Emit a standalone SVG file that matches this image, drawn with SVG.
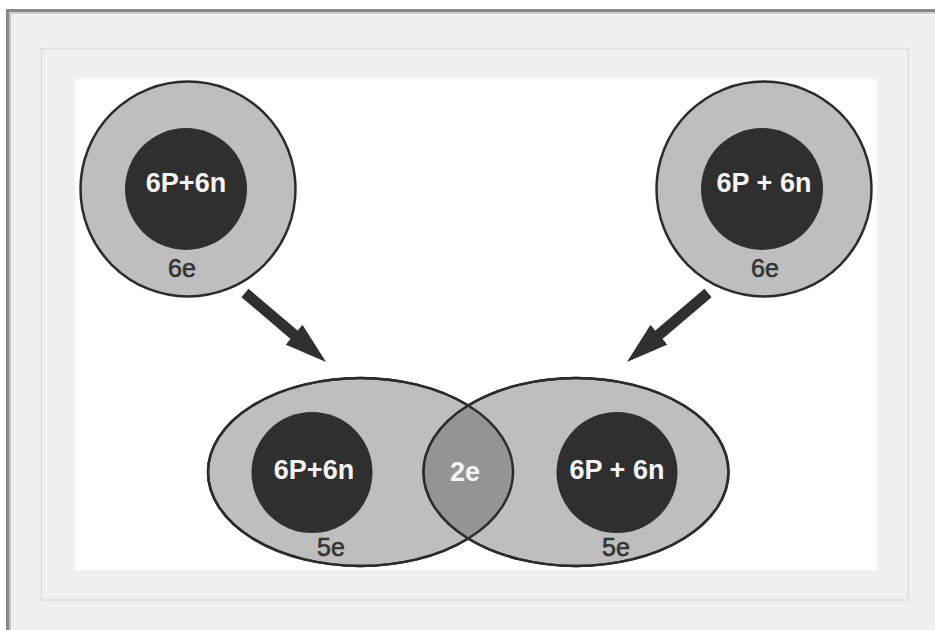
<svg xmlns="http://www.w3.org/2000/svg" width="935" height="630" viewBox="0 0 935 630">
  <style>
    .shell { fill: #bebebe; stroke: #2b2b2b; stroke-width: 2.5; }
    .outline { fill: none; stroke: #2b2b2b; stroke-width: 2.5; }
    .nucleus { fill: #2f2f2f; }
    .nuc-label { font-family: "Liberation Sans", Arial, sans-serif; font-weight: bold; font-size: 27px; fill: #f4f4f4; text-anchor: middle; }
    .e-label { font-family: "Liberation Sans", Arial, sans-serif; font-size: 25px; fill: #333333; stroke: #333333; stroke-width: 0.6; text-anchor: middle; }
    .arrow { stroke: #2f2f2f; stroke-width: 11; fill: none; marker-end: url(#head); }
  </style>
  <defs>
    <marker id="head" markerUnits="userSpaceOnUse" markerWidth="42" markerHeight="26" refX="12" refY="13" orient="auto">
      <path d="M0,0 L42,13 L0,26 Z" fill="#2f2f2f"/>
    </marker>
    <clipPath id="leftLobe">
      <ellipse cx="360.5" cy="472" rx="152.5" ry="94"/>
    </clipPath>
  </defs>

  <!-- window frame -->
  <rect x="0" y="0" width="935" height="630" fill="#ffffff"/>
  <rect x="6" y="9" width="929" height="621" fill="#f0f0f0"/>
  <rect x="6" y="9" width="929" height="3" fill="#888888"/>
  <rect x="9" y="12" width="926" height="2" fill="#d0d0d0"/>
  <rect x="6" y="9" width="3" height="621" fill="#888888"/>
  <rect x="9" y="12" width="2" height="618" fill="#c4c4c4"/>
  <rect x="41.5" y="48.5" width="867" height="551.5" fill="#f0f0f0" stroke="#dcdcdc" stroke-width="1.5"/>
  <rect x="75" y="79" width="802" height="491" fill="#ffffff"/>

  <!-- carbon atom, left -->
  <g id="atom-left">
    <circle class="shell" cx="188" cy="189" r="107.5"/>
    <circle class="nucleus" cx="186" cy="189" r="61"/>
    <text class="nuc-label" x="186" y="192">6P+6n</text>
    <text class="e-label" x="182" y="277">6e</text>
  </g>

  <!-- carbon atom, right -->
  <g id="atom-right">
    <circle class="shell" cx="764" cy="189" r="107.5"/>
    <circle class="nucleus" cx="762" cy="189" r="61"/>
    <text class="nuc-label" x="764" y="192">6P + 6n</text>
    <text class="e-label" x="765" y="277">6e</text>
  </g>

  <!-- bonded pair with shared electrons -->
  <g id="molecule">
    <g id="bond-left">
      <ellipse class="shell" cx="360.5" cy="472" rx="152.5" ry="94"/>
    </g>
    <g id="bond-right">
      <ellipse class="shell" cx="576" cy="472" rx="152.5" ry="94"/>
    </g>
    <g id="shared-pair">
      <ellipse cx="576" cy="472" rx="152.5" ry="94" fill="#949494" clip-path="url(#leftLobe)"/>
      <ellipse class="outline" cx="360.5" cy="472" rx="152.5" ry="94"/>
      <ellipse class="outline" cx="576" cy="472" rx="152.5" ry="94"/>
      <text class="nuc-label" x="465" y="481">2e</text>
    </g>
    <g id="nucleus-left">
      <circle class="nucleus" cx="312" cy="472.5" r="60.5"/>
      <text class="nuc-label" x="314" y="479">6P+6n</text>
      <text class="e-label" x="331" y="556">5e</text>
    </g>
    <g id="nucleus-right">
      <circle class="nucleus" cx="617" cy="472.5" r="60.5"/>
      <text class="nuc-label" x="617" y="479">6P + 6n</text>
      <text class="e-label" x="616" y="556">5e</text>
    </g>
  </g>

  <!-- reaction arrows -->
  <g id="connectors">
    <line class="arrow" x1="245" y1="293" x2="303.2" y2="342.5"/>
    <line class="arrow" x1="708" y1="293" x2="649.8" y2="342.5"/>
  </g>
</svg>
